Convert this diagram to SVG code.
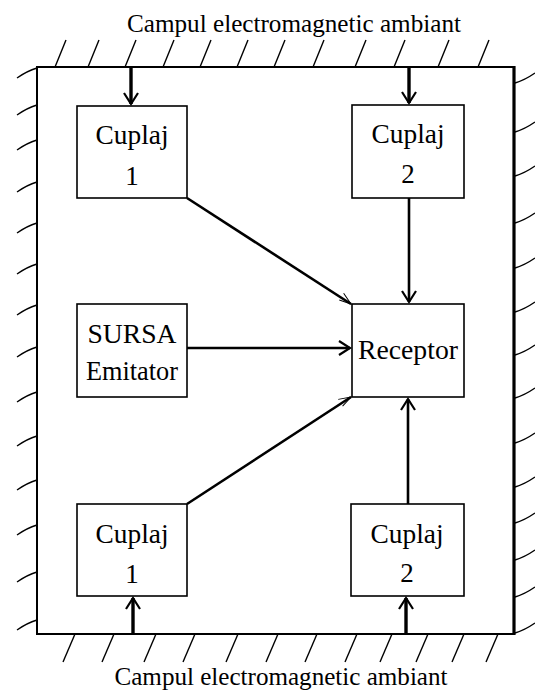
<svg xmlns="http://www.w3.org/2000/svg" width="535" height="692" viewBox="0 0 535 692">
<style>
  text { font-family: "Liberation Serif", "Times New Roman", serif; fill: #000; text-anchor: middle; }
  .lbl { font-size: 27px; }
  .title { font-size: 25px; }
  .box { fill: #fff; stroke: #000; stroke-width: 1.6; }
  .hatch { fill: none; stroke: #000; stroke-width: 1.4; }
  .frame { fill: none; stroke: #000; stroke-width: 2; }
  .conn { fill: none; stroke: #000; stroke-width: 2.6; }
  .ext { fill: none; stroke: #000; stroke-width: 3.4; }
</style>
<defs>
  <marker id="arr" markerUnits="userSpaceOnUse" markerWidth="14" markerHeight="16" refX="11" refY="7" orient="auto" overflow="visible">
    <path d="M0,0 L11,7 L0,14" fill="none" stroke="#000" stroke-width="2.2"/>
  </marker>
  <marker id="arrThin" markerUnits="userSpaceOnUse" markerWidth="14" markerHeight="16" refX="12" refY="5" orient="auto" overflow="visible">
    <path d="M0,0 L12,5 L0,8" fill="none" stroke="#000" stroke-width="1"/>
  </marker>
</defs>
<rect width="535" height="692" fill="#fff"/>

<g id="environment">
  <rect class="frame" x="37" y="67" width="477" height="567"/>
  <line x1="514" y1="66" x2="514" y2="635" stroke="#000" stroke-width="3.2"/>
  <g id="hatch-top">
    <line class="hatch" x1="55" y1="67" x2="66" y2="40"/>
    <line class="hatch" x1="88" y1="67" x2="99" y2="40"/>
    <line class="hatch" x1="125" y1="67" x2="136" y2="40"/>
    <line class="hatch" x1="163" y1="67" x2="174" y2="40"/>
    <line class="hatch" x1="200" y1="67" x2="211" y2="40"/>
    <line class="hatch" x1="237" y1="67" x2="248" y2="40"/>
    <line class="hatch" x1="274" y1="67" x2="285" y2="40"/>
    <line class="hatch" x1="313" y1="67" x2="324" y2="40"/>
    <line class="hatch" x1="355" y1="67" x2="366" y2="40"/>
    <line class="hatch" x1="394" y1="67" x2="405" y2="40"/>
    <line class="hatch" x1="438" y1="67" x2="449" y2="40"/>
    <line class="hatch" x1="478" y1="67" x2="489" y2="40"/>
  </g>
  <g id="hatch-bottom">
    <line class="hatch" x1="75" y1="634" x2="63" y2="662"/>
    <line class="hatch" x1="114" y1="634" x2="102" y2="662"/>
    <line class="hatch" x1="156" y1="634" x2="144" y2="662"/>
    <line class="hatch" x1="195" y1="634" x2="183" y2="662"/>
    <line class="hatch" x1="238" y1="634" x2="226" y2="662"/>
    <line class="hatch" x1="278" y1="634" x2="266" y2="662"/>
    <line class="hatch" x1="317" y1="634" x2="305" y2="662"/>
    <line class="hatch" x1="357" y1="634" x2="345" y2="662"/>
    <line class="hatch" x1="392" y1="634" x2="380" y2="662"/>
    <line class="hatch" x1="428" y1="634" x2="416" y2="662"/>
    <line class="hatch" x1="464" y1="634" x2="452" y2="662"/>
    <line class="hatch" x1="498" y1="634" x2="486" y2="662"/>
  </g>
  <g id="hatch-left">
    <path class="hatch" d="M37,68 Q27,71 17,78"/>
    <path class="hatch" d="M37,105 Q27,108 17,115"/>
    <path class="hatch" d="M37,140 Q27,143 17,150"/>
    <path class="hatch" d="M37,182 Q27,185 17,192"/>
    <path class="hatch" d="M37,223 Q27,226 17,233"/>
    <path class="hatch" d="M37,264 Q27,267 17,274"/>
    <path class="hatch" d="M37,305 Q27,308 17,315"/>
    <path class="hatch" d="M37,347 Q27,350 17,357"/>
    <path class="hatch" d="M37,392 Q27,395 17,402"/>
    <path class="hatch" d="M37,436 Q27,439 17,446"/>
    <path class="hatch" d="M37,480 Q27,483 17,490"/>
    <path class="hatch" d="M37,525 Q27,528 17,535"/>
    <path class="hatch" d="M37,572 Q27,575 17,582"/>
    <path class="hatch" d="M37,620 Q27,623 17,630"/>
  </g>
  <g id="hatch-right">
    <path class="hatch" d="M515,83 Q525,80 535,73"/>
    <path class="hatch" d="M515,132 Q525,129 535,122"/>
    <path class="hatch" d="M515,176 Q525,173 535,166"/>
    <path class="hatch" d="M515,223 Q525,220 535,213"/>
    <path class="hatch" d="M515,268 Q525,265 535,258"/>
    <path class="hatch" d="M515,312 Q525,309 535,302"/>
    <path class="hatch" d="M515,355 Q525,352 535,345"/>
    <path class="hatch" d="M515,398 Q525,395 535,388"/>
    <path class="hatch" d="M515,443 Q525,440 535,433"/>
    <path class="hatch" d="M515,487 Q525,484 535,477"/>
    <path class="hatch" d="M515,523 Q525,520 535,513"/>
    <path class="hatch" d="M515,560 Q525,557 535,550"/>
    <path class="hatch" d="M515,597 Q525,594 535,587"/>
    <path class="hatch" d="M515,633 Q525,630 535,623"/>
  </g>
  <text class="title" x="294" y="32" textLength="334" lengthAdjust="spacingAndGlyphs">Campul electromagnetic ambiant</text>
  <text class="title" x="281" y="685" textLength="333" lengthAdjust="spacingAndGlyphs">Campul electromagnetic ambiant</text>
</g>

<g id="connectors">
  <line class="ext" x1="131" y1="67" x2="131" y2="104" marker-end="url(#arr)"/>
  <line class="ext" x1="409" y1="67" x2="409" y2="103" marker-end="url(#arr)"/>
  <line class="ext" x1="133" y1="634" x2="133" y2="598" marker-end="url(#arr)"/>
  <line class="ext" x1="406" y1="634" x2="406" y2="598" marker-end="url(#arr)"/>
  <line class="conn" x1="409" y1="198" x2="409" y2="302" marker-end="url(#arr)"/>
  <line class="conn" x1="408" y1="504" x2="408" y2="399" marker-end="url(#arr)"/>
  <line class="conn" x1="187" y1="348" x2="350" y2="348" marker-end="url(#arr)"/>
  <line class="conn" x1="187" y1="198" x2="351" y2="304" marker-end="url(#arrThin)"/>
  <line class="conn" x1="187" y1="504" x2="351" y2="397" marker-end="url(#arrThin)"/>
</g>

<g id="cuplaj1-top">
  <rect class="box" x="77" y="106" width="110" height="92"/>
  <text class="lbl" x="132" y="144" textLength="73" lengthAdjust="spacingAndGlyphs">Cuplaj</text>
  <text class="lbl" x="132" y="185">1</text>
</g>
<g id="cuplaj2-top">
  <rect class="box" x="352" y="105" width="112" height="93"/>
  <text class="lbl" x="408" y="143" textLength="73" lengthAdjust="spacingAndGlyphs">Cuplaj</text>
  <text class="lbl" x="408" y="183">2</text>
</g>
<g id="sursa">
  <rect class="box" x="77" y="304" width="110" height="93"/>
  <text class="lbl" x="132" y="343" textLength="89" lengthAdjust="spacingAndGlyphs">SURSA</text>
  <text class="lbl" x="132" y="380" textLength="92" lengthAdjust="spacingAndGlyphs">Emitator</text>
</g>
<g id="receptor">
  <rect class="box" x="352" y="304" width="112" height="93"/>
  <text class="lbl" x="408" y="359" textLength="100" lengthAdjust="spacingAndGlyphs">Receptor</text>
</g>
<g id="cuplaj1-bottom">
  <rect class="box" x="77" y="504" width="110" height="92"/>
  <text class="lbl" x="132" y="543" textLength="73" lengthAdjust="spacingAndGlyphs">Cuplaj</text>
  <text class="lbl" x="132" y="583">1</text>
</g>
<g id="cuplaj2-bottom">
  <rect class="box" x="351" y="504" width="113" height="92"/>
  <text class="lbl" x="407" y="543" textLength="73" lengthAdjust="spacingAndGlyphs">Cuplaj</text>
  <text class="lbl" x="407" y="582">2</text>
</g>
</svg>
